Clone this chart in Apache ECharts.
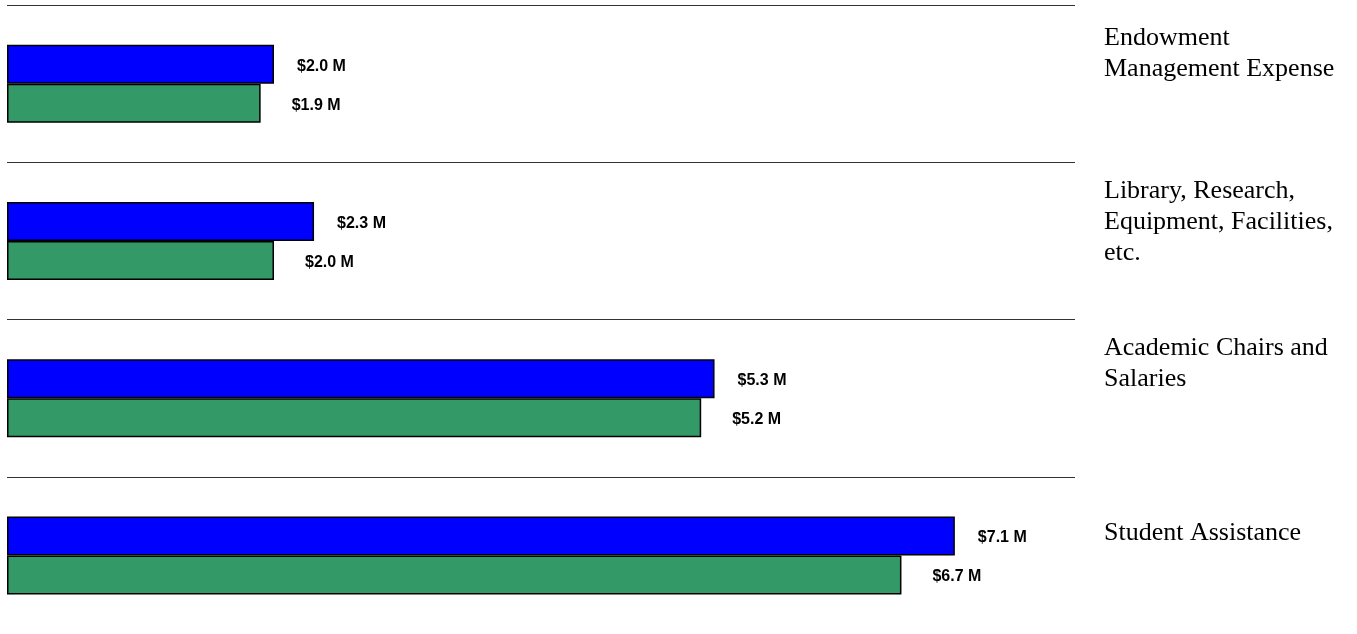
<!DOCTYPE html>
<html>
<head>
<meta charset="utf-8">
<script src="https://cdn.jsdelivr.net/npm/echarts@6/dist/echarts.min.js"></script>
<style>
  html, body { margin: 0; padding: 0; background: #fff; }
  #chart { width: 1357px; height: 634px; }
</style>
</head>
<body>
<div id="chart"></div>
<script>
const categories = [
  'Endowment\nManagement Expense',
  'Library, Research,\nEquipment, Facilities,\netc.',
  'Academic Chairs and\nSalaries',
  'Student Assistance'
];
const seriesBlue = [2.0, 2.3, 5.3, 7.1];
const seriesGreen = [1.9, 2.0, 5.2, 6.7];

// per-category label vertical nudge (style only): height of a trailing spacer line
const labelSpacer = [59, 38, 69, 44];

const chart = echarts.init(document.getElementById('chart'), null, { renderer: 'canvas' });

const fmt = p => '$' + Number(p.value).toFixed(1) + ' M';

const rich = {
  t: {
    fontFamily: '"Liberation Serif", "Times New Roman", serif',
    fontSize: 26, lineHeight: 31, color: '#000'
  }
};
labelSpacer.forEach((h, i) => {
  rich['s' + i] = { fontSize: 2, lineHeight: h, height: h };
});

chart.setOption({
  animation: false,
  backgroundColor: '#ffffff',
  grid: { left: 7, right: 282, top: 5, height: 632, containLabel: false },
  xAxis: {
    type: 'value', min: 0, max: 8, show: false
  },
  yAxis: {
    type: 'category',
    inverse: true,
    position: 'right',
    data: categories,
    axisLine: { show: false },
    axisTick: { show: false },
    splitLine: { show: true, interval: 0, lineStyle: { color: '#333', width: 1 } },
    axisLabel: {
      show: true, interval: 0, margin: 29, align: 'left', verticalAlign: 'middle',
      formatter: (value, index) =>
        value.split('\n').map(l => '{t|' + l + '}').join('\n') + '\n{s' + index + '| }',
      rich: rich
    }
  },
  series: [
    {
      name: 'Blue', type: 'bar', data: seriesBlue,
      barWidth: 39, barGap: '0%',
      itemStyle: { color: '#0000ff', borderColor: '#000', borderWidth: 1.5 },
      label: {
        show: true, position: 'right', distance: 23, offset: [0, 2], formatter: fmt,
        fontFamily: '"Liberation Sans", Arial, sans-serif', fontWeight: 'bold',
        fontSize: 16, color: '#000'
      }
    },
    {
      name: 'Green', type: 'bar', data: seriesGreen,
      barWidth: 39, barGap: '0%',
      itemStyle: { color: '#339966', borderColor: '#000', borderWidth: 1.5 },
      label: {
        show: true, position: 'right', distance: 31, offset: [0, 2], formatter: fmt,
        fontFamily: '"Liberation Sans", Arial, sans-serif', fontWeight: 'bold',
        fontSize: 16, color: '#000'
      }
    }
  ]
});
</script>
</body>
</html>
